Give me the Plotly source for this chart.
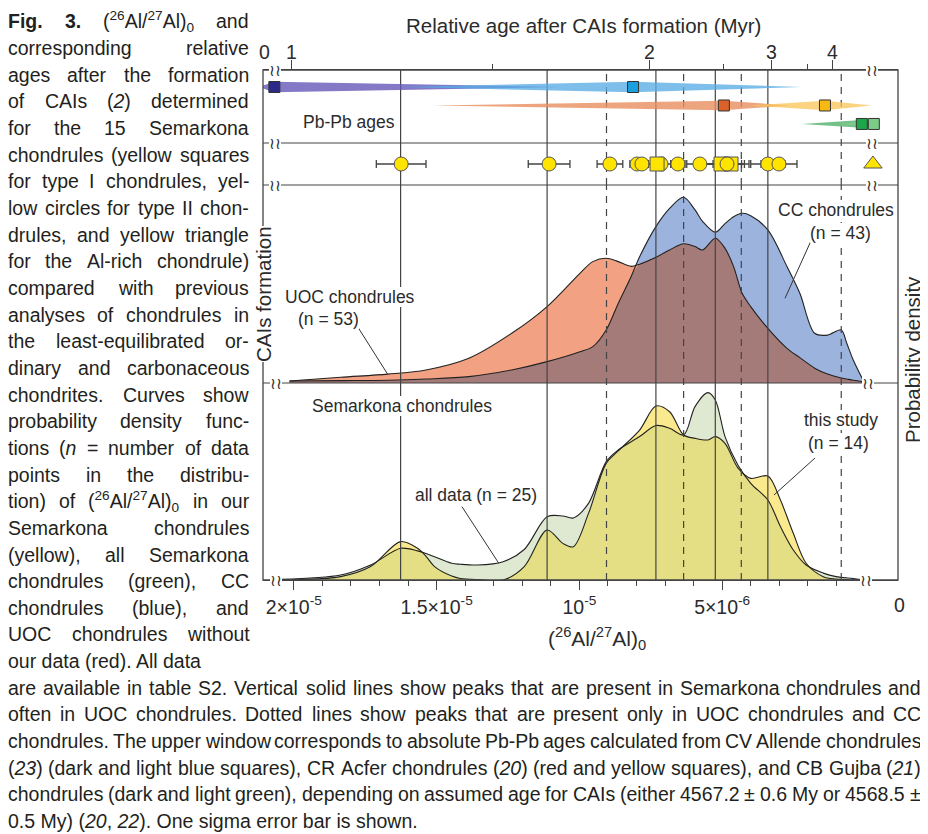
import re
import numpy as np
import plotly.graph_objects as go

# ---------------- DATA (x values in units of 1e-6 of (26Al/27Al)0) ----------------
# Upper panel: CC and UOC chondrule probability densities (relative units)
upper_x = [20.15, 18.36, 16.71, 15.37, 13.87, 12.37, 11.13, 9.98, 9.53, 9.06,
           8.64, 8.19, 7.89, 7.32, 6.84, 6.35, 5.95, 5.68, 5.24, 4.90,
           4.60, 4.30, 4.00, 3.40, 2.73, 2.28, 1.76, 1.31, 0.83, 0.64,
           0.41, 0.04]
cc_density = [1.0, 1.2, 1.4, 2.0, 3.2, 6.6, 10.8, 15.8, 18.4, 26.8,
              40.2, 53.7, 63.8, 79.0, 88.2, 93.8, 87.4, 81.5, 76.1, 80.5,
              84.0, 85.7, 84.5, 77.3, 58.8, 45.3, 25.1, 24.2, 26.8, 20.2,
              11.6, 0.7]
uoc_density = [1.0, 2.9, 4.5, 6.6, 12.5, 25.1, 38.6, 55.4, 61.3, 63.0,
               61.3, 58.9, 60.0, 63.5, 67.2, 70.3, 68.9, 67.2, 73.1, 68.0,
               58.8, 45.3, 38.6, 27.6, 17.5, 12.8, 7.5, 4.5, 2.5, 2.0,
               1.4, 0.7]

# Lower panel: Semarkona chondrules (all data, this study)
lower_x = [20.45, 18.36, 17.31, 16.26, 15.67, 15.37, 15.07, 14.47, 14.17, 13.57,
           12.67, 11.93, 11.13, 10.58, 10.21, 9.68, 9.06, 8.64, 7.89, 7.32,
           6.84, 6.35, 5.95, 5.50, 5.24, 4.90, 4.45, 4.00, 3.40, 2.96,
           2.51, 2.06, 1.46, 1.01, 0.41, 0.04]
all_density = [0.3, 2.5, 7.6, 16.1, 14.8, 13.5, 11.8, 8.5, 8.0, 7.6,
               9.3, 15.5, 32.1, 32.5, 31.5, 38.9, 60.1, 66.0, 72.8, 78.4,
               77.0, 73.6, 88.0, 95.1, 91.4, 72.8, 58.4, 49.1, 40.6, 27.1,
               15.2, 7.6, 3.5, 1.7, 0.7, 0.0]
study_density = [0.0, 1.7, 6.8, 19.5, 16.1, 12.0, 6.8, 2.0, 0.8, 0.2,
                 0.0, 6.8, 25.4, 18.6, 16.9, 33.8, 59.2, 65.5, 76.1, 88.3,
                 85.4, 73.6, 71.9, 71.1, 72.8, 69.4, 56.9, 51.6, 52.8, 40.6,
                 23.7, 8.5, 1.7, 0.5, 0.0, 0.0]

# Individual Semarkona chondrules (this study)
pt_ratio = [16.24, 11.06, 8.93, 7.98, 7.81, 7.14, 7.28, 6.55, 5.78, 5.04, 4.69, 4.83, 3.40, 3.01]
pt_err = [0.87, 0.73, 0.45, 0.25, 0.30, 0.35, 0.30, 0.25, 0.46, 0.72, 0.47, 0.77, 0.60, 0.63]
pt_type = ["II", "II", "II", "II", "II", "II", "I", "II", "II", "I", "I", "II", "II", "II"]
alrich_ratio = [-0.28]

# Pb-Pb ages converted to the (26Al/27Al)0 scale
pb_names = ["CV Allende (CAI 4567.2 My)", "CV Allende (CAI 4568.5 My)",
            "CR Acfer (CAI 4567.2 My)", "CR Acfer (CAI 4568.5 My)",
            "CB Gujba (CAI 4567.2 My)", "CB Gujba (CAI 4568.5 My)"]
pb_center = [20.68, 8.12, 4.94, 1.40, 0.11, -0.31]
pb_lo = [21.24, 16.27, 15.15, 4.03, 2.21, 0.88]
pb_hi = [10.68, 2.21, 2.63, -0.24, -0.17, -0.52]
pb_row = [3, 3, 2, 2, 1, 1]

# Peak lines
solid_peaks = [16.26, 11.13, 7.32, 5.24, 3.40]
dashed_peaks = [9.05, 6.35, 4.33, 0.83]

# Axis ticks
bottom_tickvals = [20, 15, 10, 5]
bottom_ticktext = ["2×10<sup>-5</sup>", "1.5×10<sup>-5</sup>", "10<sup>-5</sup>", "5×10<sup>-6</sup>"]
bottom_minor = [19, 18, 17, 16, 14, 13, 12, 11, 9, 8, 7, 6, 4, 3, 2, 1]
top_age_labels = ["1", "2", "3", "4"]
top_age_pos = [20.09, 7.55, 3.29, 1.12]
top_minor_pos = [13.04, 4.94, 2.00]

X_RANGE = [21.078, -1.157]

# ---------------- LAYOUT HELPERS ----------------
W, H = 928, 834          # target picture size
PAGE = 8                 # default body margin of the html page
L, R, T, B = 263, 898, 70, 580


def px(X):
    return (X - L) / (R - L)


def py(Y):
    return (B - Y) / (B - T)


dom_lower = [0, py(383)]
dom_upper = [py(383), py(185)]
dom_row = [py(185), py(143)]
dom_pb = [py(143), 1]

INK = "#2b2b2b"
LINE = "#444444"
PLOT_FONT = "Liberation Sans, Arial, Helvetica, sans-serif"

fig = go.Figure()

# ---------------- Pb-Pb wedges ----------------
wedge_fill = ["rgba(100,88,185,0.80)", "rgba(88,172,230,0.78)",
              "rgba(232,142,95,0.80)", "rgba(250,198,92,0.78)",
              "rgba(55,165,85,0.70)", "rgba(135,205,140,0.70)"]
square_col = ["#2c2a88", "#1aa0de", "#d9622a", "#f7b914", "#1ea64a", "#7ccb86"]
half = {3: 0.28, 2: 0.26, 1: 0.21}
for i in range(len(pb_center)):
    r = pb_row[i]
    h = half[r]
    fig.add_trace(go.Scatter(
        x=[pb_lo[i], pb_center[i], pb_hi[i], pb_center[i], pb_lo[i]],
        y=[r, r + h, r, r - h, r],
        mode="lines", fill="toself", fillcolor=wedge_fill[i],
        line=dict(width=0), xaxis="x", yaxis="y4", showlegend=False,
        hoverinfo="skip", name=pb_names[i]))
fig.add_trace(go.Scatter(
    x=pb_center, y=pb_row, mode="markers", xaxis="x", yaxis="y4",
    marker=dict(symbol="square", size=11, color=square_col,
                line=dict(color="#333", width=1)),
    showlegend=False, text=pb_names))

# ---------------- data row ----------------
fig.add_trace(go.Scatter(
    x=pt_ratio, y=[0.5] * len(pt_ratio), mode="markers", xaxis="x", yaxis="y3",
    marker=dict(symbol=["square" if t == "I" else "circle" for t in pt_type],
                size=14, color="#ffe400", line=dict(color="#555", width=1)),
    error_x=dict(type="data", array=pt_err, symmetric=True, color=LINE,
                 thickness=1.3, width=4),
    showlegend=False, cliponaxis=False))
fig.add_trace(go.Scatter(
    x=alrich_ratio, y=[0.5], mode="markers", xaxis="x", yaxis="y3",
    marker=dict(symbol="triangle-up", size=16, color="#ffe400",
                line=dict(color="#555", width=1)),
    showlegend=False, cliponaxis=False))

# ---------------- upper panel (CC / UOC) ----------------
cc = np.array(cc_density)
uoc = np.array(uoc_density)
SM = 0.9
for yy, col in [(cc, "#9bb3dd"), (uoc, "#f2a283"), (np.minimum(cc, uoc), "#a47b78")]:
    fig.add_trace(go.Scatter(x=upper_x, y=yy, mode="lines", fill="tozeroy",
                             fillcolor=col, line=dict(width=0, shape="spline", smoothing=SM),
                             xaxis="x", yaxis="y2", showlegend=False, hoverinfo="skip"))
for yy in (cc, uoc):
    fig.add_trace(go.Scatter(x=upper_x, y=yy, mode="lines",
                             line=dict(color="#222", width=1.1, shape="spline", smoothing=SM),
                             xaxis="x", yaxis="y2", showlegend=False))

# ---------------- lower panel (Semarkona) ----------------
alld = np.array(all_density)
std = np.array(study_density)
for yy, col in [(alld, "#dfe9d2"), (std, "#fbe98e"), (np.minimum(alld, std), "#e4df84")]:
    fig.add_trace(go.Scatter(x=lower_x, y=yy, mode="lines", fill="tozeroy",
                             fillcolor=col, line=dict(width=0, shape="spline", smoothing=SM),
                             xaxis="x", yaxis="y", showlegend=False, hoverinfo="skip"))
for yy in (alld, std):
    fig.add_trace(go.Scatter(x=lower_x, y=yy, mode="lines",
                             line=dict(color="#222", width=1.1, shape="spline", smoothing=SM),
                             xaxis="x", yaxis="y", showlegend=False))

# dummy trace for the top axis
fig.add_trace(go.Scatter(x=[None], y=[None], xaxis="x2", yaxis="y4",
                         showlegend=False, hoverinfo="skip"))

shapes = []
# peak lines
for v in solid_peaks + dashed_peaks:
    dash = "solid" if v in solid_peaks else "7px,6px"
    shapes.append(dict(type="line", xref="x", yref="paper", x0=v, x1=v, y0=0, y1=py(185),
                       line=dict(color=LINE, width=1.2, dash=dash), layer="above"))
    shapes.append(dict(type="line", xref="x", yref="paper", x0=v, x1=v, y0=py(185), y1=1,
                       line=dict(color=LINE, width=1.2, dash=dash), layer="below"))
# horizontal separators
for Y in (143, 185, 383):
    shapes.append(dict(type="line", xref="paper", yref="paper", x0=0, x1=1, y0=py(Y), y1=py(Y),
                       line=dict(color=LINE, width=1.2), layer="above"))
# frame
shapes.append(dict(type="rect", xref="paper", yref="paper", x0=0, x1=1, y0=0, y1=1,
                   line=dict(color=LINE, width=1.3), layer="above"))
# leader lines
for (X0, Y0, X1, Y1) in [(357.6, 326.7, 387.5, 374), (810.6, 241.7, 785, 298.3),
                         (462, 506.7, 498.6, 563), (815, 458, 774, 495)]:
    shapes.append(dict(type="line", xref="paper", yref="paper", x0=px(X0), y0=py(Y0),
                       x1=px(X1), y1=py(Y1), line=dict(color="#333", width=1), layer="above"))

ann = []


def label(text, X, Y, size=17.5, angle=0, bg="white", anchor="center", color=INK, family=PLOT_FONT):
    ann.append(dict(text=text, x=px(X), y=py(Y), xref="paper", yref="paper", showarrow=False,
                    xanchor=anchor, yanchor="middle", textangle=angle,
                    font=dict(size=size, color=color, family=family),
                    bgcolor=bg, borderpad=0, borderwidth=0))


label("UOC chondrules", 350, 297)
label("(n = 53)", 328, 319)
label("CC chondrules", 836, 210)
label("(n = 43)", 840, 233)
label("Semarkona chondrules", 402, 406)
label("all data (n = 25)", 476, 495)
label("this study", 841, 420)
label("(n = 14)", 838, 443)
label("Pb-Pb ages", 349, 122)
label("CAIs formation", 263, 294, size=20.5, angle=-90)
label("Probability density", 912, 360, size=20.5, angle=-90, bg="rgba(0,0,0,0)")
label("Relative age after CAIs formation (Myr)", 583, 25, size=20.5, bg="rgba(0,0,0,0)")
label("(<sup>26</sup>Al/<sup>27</sup>Al)<sub>0</sub>", 597, 638, size=21, bg="rgba(0,0,0,0)")
label("0", 264, 52, size=19.5, bg="rgba(0,0,0,0)")
label("0", 899, 605, size=19.5, bg="rgba(0,0,0,0)")

# top-axis tick labels (placed on the axis' own data coordinates)
for txt, pos in zip(top_age_labels, top_age_pos):
    ann.append(dict(text=txt, x=pos, y=py(52), xref="x", yref="paper", showarrow=False,
                    xanchor="center", yanchor="middle",
                    font=dict(size=19.5, color=INK, family=PLOT_FONT)))

# axis breaks
for (X, Y) in [(275, 70), (872, 70), (275, 143), (872, 143), (275, 185), (872, 185),
               (276, 383), (868, 383), (276, 580), (866, 580)]:
    label("≀≀", X, Y, size=16, family="DejaVu Sans", color="#333")

# ---------------- CAPTION ----------------
CAP_FONT = "Liberation Sans, Arial, sans-serif"
CAP_SIZE = 19.5
CAP_COLOR = "#231f20"
REG = {" ": 278, "(": 333, ")": 333, ",": 278, "-": 333, ".": 278, "/": 278, ":": 278,
       ";": 278, "=": 584, "±": 584, "×": 584}
for c in "0123456789":
    REG[c] = 556
for c, w in zip("ABCDEFGHIJKLMNOPQRSTUVWXYZ",
                [667, 667, 722, 722, 667, 611, 778, 722, 278, 500, 667, 556, 833, 722, 778, 667,
                 778, 722, 667, 611, 722, 667, 944, 667, 667, 611]):
    REG[c] = w
for c, w in zip("abcdefghijklmnopqrstuvwxyz",
                [556, 556, 500, 556, 556, 278, 556, 556, 222, 222, 500, 222, 833, 556, 556, 556,
                 556, 333, 500, 278, 556, 500, 722, 500, 500, 500]):
    REG[c] = w
BOLD = dict(REG)
BOLD.update({"F": 611, "i": 278, "g": 611, ".": 278, "3": 556})


def twidth(markup, size):
    total, scale, bold = 0.0, 1.0, False
    for tok in re.split(r"(<[^>]+>)", markup):
        if tok.startswith("<"):
            name = tok.strip("</>").lower()
            closing = tok.startswith("</")
            if name in ("sup", "sub"):
                scale = 1.0 if closing else 0.7
            elif name == "b":
                bold = not closing
            continue
        for ch in tok:
            total += (BOLD if bold else REG).get(ch, 556) * scale
    return total * size / 1000.0


left_lines = [
    "<b>Fig.</b> <b>3.</b> (<sup>26</sup>Al/<sup>27</sup>Al)<sub>0</sub> and",
    "corresponding relative",
    "ages after the formation",
    "of CAIs (<i>2</i>) determined",
    "for the 15 Semarkona",
    "chondrules (yellow squares",
    "for type I chondrules, yel-",
    "low circles for type II chon-",
    "drules, and yellow triangle",
    "for the Al-rich chondrule)",
    "compared with previous",
    "analyses of chondrules in",
    "the least-equilibrated or-",
    "dinary and carbonaceous",
    "chondrites. Curves show",
    "probability density func-",
    "tions (<i>n</i> = number of data",
    "points in the distribu-",
    "tion) of (<sup>26</sup>Al/<sup>27</sup>Al)<sub>0</sub> in our",
    "Semarkona chondrules",
    "(yellow), all Semarkona",
    "chondrules (green), CC",
    "chondrules (blue), and",
    "UOC chondrules without",
    "our data (red). All data",
]
bottom_lines = [
    "are available in table S2. Vertical solid lines show peaks that are present in Semarkona chondrules and",
    "often in UOC chondrules. Dotted lines show peaks that are present only in UOC chondrules and CC",
    "chondrules. The upper window corresponds to absolute Pb-Pb ages calculated from CV Allende chondrules",
    "(<i>23</i>) (dark and light blue squares), CR Acfer chondrules (<i>20</i>) (red and yellow squares), and CB Gujba (<i>21</i>)",
    "chondrules (dark and light green), depending on assumed age for CAIs (either 4567.2 ± 0.6 My or 4568.5 ±",
    "0.5 My) (<i>20</i>, <i>22</i>). One sigma error bar is shown.",
]

Y0_CAP, DY_CAP = 21.5, 26.65


def place_line(text, x0, x1, Y, justify):
    words = text.split(" ")
    if not justify or len(words) == 1:
        label(text, x0, Y, size=CAP_SIZE, anchor="left", bg="rgba(0,0,0,0)",
              color=CAP_COLOR, family=CAP_FONT)
        return
    widths = [twidth(w, CAP_SIZE) for w in words]
    gap = (x1 - x0 - sum(widths)) / (len(words) - 1)
    X = x0
    for w, wd in zip(words, widths):
        label(w, X, Y, size=CAP_SIZE, anchor="left", bg="rgba(0,0,0,0)",
              color=CAP_COLOR, family=CAP_FONT)
        X += wd + gap


for i, line in enumerate(left_lines):
    place_line(line, 8, 249, Y0_CAP + DY_CAP * i, justify=(i < len(left_lines) - 1))
for j, line in enumerate(bottom_lines):
    i = len(left_lines) + j
    place_line(line, 8, 921, Y0_CAP + DY_CAP * i, justify=(j < len(bottom_lines) - 1))

# ---------------- LAYOUT ----------------
# the page adds an 8px body margin, so the figure is shrunk and shifted by it
fig.update_layout(
    width=W - PAGE, height=H - PAGE,
    margin=dict(l=L - PAGE, r=W - R, t=T - PAGE, b=H - B, pad=0),
    paper_bgcolor="white", plot_bgcolor="rgba(0,0,0,0)",
    font=dict(family=PLOT_FONT, color=INK),
    showlegend=False,
    xaxis=dict(range=X_RANGE, domain=[0, 1], anchor="y", showgrid=False, zeroline=False,
               showline=True, linecolor=LINE, linewidth=1.3,
               tickmode="array", tickvals=bottom_tickvals, ticktext=bottom_ticktext,
               ticks="outside", ticklen=9, tickwidth=1.2, tickcolor=LINE,
               tickfont=dict(size=19.5, color=INK),
               minor=dict(tickmode="array", tickvals=bottom_minor, ticks="outside",
                          ticklen=5, tickwidth=1.1, tickcolor=LINE, showgrid=False)),
    xaxis2=dict(range=X_RANGE, overlaying="x", side="top", anchor="y4", showgrid=False,
                zeroline=False, showline=True, linecolor=LINE, linewidth=1.3,
                tickmode="array", tickvals=top_age_pos, ticktext=top_age_labels,
                showticklabels=False,
                ticks="outside", ticklen=9, tickwidth=1.2, tickcolor=LINE,
                minor=dict(tickmode="array", tickvals=top_minor_pos, ticks="outside",
                           ticklen=5, tickwidth=1.1, tickcolor=LINE, showgrid=False)),
    yaxis=dict(domain=dom_lower, range=[0, 100], visible=False, anchor="x"),
    yaxis2=dict(domain=dom_upper, range=[0, 100], visible=False, anchor="x"),
    yaxis3=dict(domain=dom_row, range=[0, 1], visible=False, anchor="x"),
    yaxis4=dict(domain=dom_pb, range=[-0.03, 3.92], visible=False, anchor="x"),
    shapes=shapes,
    annotations=ann,
)

fig.write_html("out.html")
